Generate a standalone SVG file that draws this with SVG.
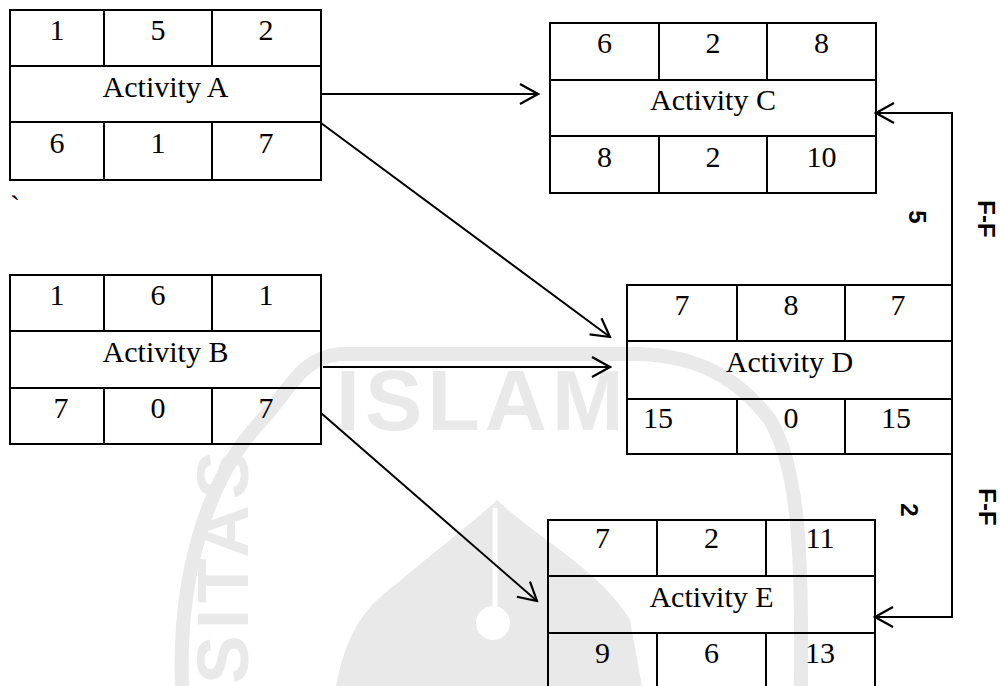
<svg xmlns="http://www.w3.org/2000/svg" width="1000" height="686" viewBox="0 0 1000 686">
<style>
.box{fill:none;stroke:#000;stroke-width:2}
.t{font-family:"Liberation Serif","Times New Roman",serif;font-size:30px;fill:#000;text-anchor:middle}
.lbl{font-family:"Liberation Sans",Arial,sans-serif;font-size:24px;font-weight:bold;fill:#000;text-anchor:middle}
.con{fill:none;stroke:#000;stroke-width:2}
.wm{fill:#e9e9e9}
.wmt{font-family:"Liberation Sans",Arial,sans-serif;font-weight:bold;fill:#e9e9e9}
</style>
<defs>
<marker id="arr" markerUnits="userSpaceOnUse" viewBox="0 0 22 22" refX="20" refY="11" markerWidth="22" markerHeight="22" orient="auto">
<path d="M2,1 L20,11 L2,21" fill="none" stroke="#000" stroke-width="2.2"/>
</marker>
</defs>
<rect width="1000" height="686" fill="#fff"/>
<g id="watermark">
<path d="M182 686 C178 580 205 480 262 420 C290 390 300 358 340 354 L640 354 C700 356 740 380 770 420 C800 470 802 560 801 686" fill="none" stroke="#e9e9e9" stroke-width="14"/>
<text class="wmt" x="336" y="430" font-size="86" letter-spacing="5">ISLAM</text>
<text class="wmt" x="248" y="684" font-size="73" letter-spacing="6" transform="rotate(-90 248 684)">SITAS</text>
<path class="wm" d="M497 500 C540 540 600 570 630 620 L642 686 L336 686 C345 640 360 610 395 585 C430 555 470 525 497 500 Z"/>
<line x1="495" y1="508" x2="495" y2="608" stroke="#fff" stroke-width="5"/>
<circle cx="493" cy="623" r="17" fill="#fff"/>
</g>
<g id="connectors">
<path class="con" d="M321 94 L538 94" marker-end="url(#arr)"/>
<path class="con" d="M321 123 L610 337" marker-end="url(#arr)"/>
<path class="con" d="M323 367 L610 367" marker-end="url(#arr)"/>
<path class="con" d="M321 413 L537 601" marker-end="url(#arr)"/>
<path class="con" d="M952 285 L952 113 L876 113" marker-end="url(#arr)"/>
<path class="con" d="M952 454 L952 617 L875 617" marker-end="url(#arr)"/>
<text class="lbl" x="909" y="217" transform="rotate(90 909 217)">5</text>
<text class="lbl" x="978" y="219" font-size="23" transform="rotate(90 978 219)">F-F</text>
<text class="lbl" x="901" y="510" transform="rotate(90 901 510)">2</text>
<text class="lbl" x="979" y="507" font-size="23" transform="rotate(90 979 507)">F-F</text>
</g>
<g id="activity-a">
<rect class="box" x="10" y="10" width="311" height="170"/>
<path class="box" d="M10 66 H321 M10 122 H321 M104 10 V66 M212 10 V66 M104 122 V180 M212 122 V180"/>
<text class="t" x="57" y="40">1</text><text class="t" x="158" y="40">5</text><text class="t" x="266" y="40">2</text>
<text class="t" x="165.5" y="97">Activity A</text>
<text class="t" x="57" y="153">6</text><text class="t" x="158" y="153">1</text><text class="t" x="266" y="153">7</text>
</g>
<text class="t" x="10" y="216" style="text-anchor:start">`</text>
<g id="activity-b">
<rect class="box" x="10" y="275" width="311" height="169"/>
<path class="box" d="M10 331 H321 M10 388 H321 M104 275 V331 M212 275 V331 M104 388 V444 M212 388 V444"/>
<text class="t" x="57" y="305">1</text><text class="t" x="158" y="305">6</text><text class="t" x="266" y="305">1</text>
<text class="t" x="165.5" y="362">Activity B</text>
<text class="t" x="61" y="418">7</text><text class="t" x="158" y="418">0</text><text class="t" x="266" y="418">7</text>
</g>
<g id="activity-c">
<rect class="box" x="550" y="23" width="326" height="170"/>
<path class="box" d="M550 80 H876 M550 136 H876 M659 23 V80 M767 23 V80 M659 136 V193 M767 136 V193"/>
<text class="t" x="604.5" y="53">6</text><text class="t" x="713" y="53">2</text><text class="t" x="821.5" y="53">8</text>
<text class="t" x="713" y="110">Activity C</text>
<text class="t" x="604.5" y="167">8</text><text class="t" x="713" y="167">2</text><text class="t" x="821.5" y="167">10</text>
</g>
<g id="activity-d">
<rect class="box" x="627" y="285" width="325" height="169"/>
<path class="box" d="M627 341 H952 M627 399 H952 M737 285 V341 M845 285 V341 M737 399 V454 M845 399 V454"/>
<text class="t" x="682" y="315">7</text><text class="t" x="791" y="315">8</text><text class="t" x="898" y="315">7</text>
<text class="t" x="789.5" y="372">Activity D</text>
<text class="t" x="658" y="428">15</text><text class="t" x="791" y="428">0</text><text class="t" x="896" y="428">15</text>
</g>
<g id="activity-e">
<path class="box" d="M548 690 V520 H875 V690"/>
<path class="box" d="M548 576 H875 M548 633 H875 M657 520 V576 M766 520 V576 M657 633 V690 M766 633 V690"/>
<text class="t" x="602.5" y="548">7</text><text class="t" x="711.5" y="548">2</text><text class="t" x="820" y="548">11</text>
<text class="t" x="711.5" y="607">Activity E</text>
<text class="t" x="602.5" y="663">9</text><text class="t" x="711.5" y="663">6</text><text class="t" x="820" y="663">13</text>
</g>
</svg>
